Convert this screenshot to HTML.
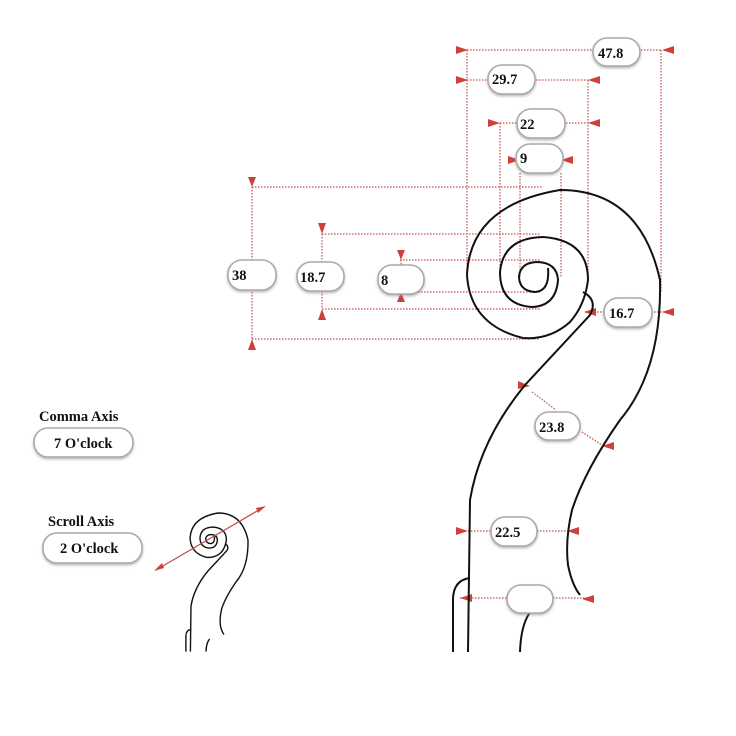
<!DOCTYPE html>
<html><head><meta charset="utf-8"><style>
body{margin:0;background:#fff}
svg{display:block}
text{font-family:"Liberation Serif",serif;font-weight:bold;font-size:14.5px;fill:#111}
.d{stroke:#c0504d;stroke-width:1.2;stroke-dasharray:1.5 1.5;fill:none}
.k{stroke:#111;stroke-width:2;fill:none}
.b{fill:#fff;stroke:#aaa;stroke-width:1.6}
.a{fill:#d0403a}
</style></head><body>
<svg width="736" height="736" viewBox="0 0 736 736" xmlns="http://www.w3.org/2000/svg">
<defs>
<filter id="s" x="-20%" y="-20%" width="140%" height="160%"><feDropShadow dx="0" dy="1.5" stdDeviation="1.2" flood-color="#888" flood-opacity="0.6"/></filter>
<g id="scroll">
<path vector-effect="non-scaling-stroke" d="M548,268 Q550,291 535,292 Q519,291 519,276 Q521,262 538,262 Q557,263 558,280 Q556,306 532,307 Q500,305 500,272 Q503,238 543,237 Q588,240 588,280 Q585,305 570,322 Q550,340 523,338 Q470,325 467,275 Q470,205 560,190 Q640,190 660,280 Q662,370 620,420 Q585,470 572,510 Q565,540 568,565 Q572,585 580,595"/>
<path vector-effect="non-scaling-stroke" d="M583,292 Q598,300 590,315 L525,385 Q480,440 470,500 L468,652"/>
<path vector-effect="non-scaling-stroke" d="M453,652 V598 Q454,580 470,578"/>
<path vector-effect="non-scaling-stroke" d="M520,652 Q521,622 532,610"/>
</g>
</defs>
<path class="d" d="M467,50H662 M467,80H588 M500,123H588 M252,187H543 M322,234H540 M400,260H540 M400,292H540 M322,309H540 M252,339H540 M585,312H668 M460,598H593 M468,531H567"/>
<path class="d" d="M467,50V280 M500,123V282 M520,173V278 M561,173V278 M588,80V275 M661,50V292 M252,187V339 M322,234V309 M401,260V292"/>
<path class="d" d="M532,392L556,410 M582,432L602,445"/>
<g class="a">
<polygon points="468,50 456,46 456,54"/><polygon points="662,50 674,46 674,54"/>
<polygon points="468,80 456,76 456,84"/><polygon points="588,80 600,76 600,84"/>
<polygon points="500,123 488,119 488,127"/><polygon points="588,123 600,119 600,127"/>
<polygon points="520,160 508,156 508,164"/><polygon points="561,160 573,156 573,164"/>
<polygon points="252,187 248,177 256,177"/><polygon points="252,339 248,350 256,350"/>
<polygon points="322,234 318,223 326,223"/><polygon points="322,309 318,320 326,320"/>
<polygon points="401,260 397,250 405,250"/><polygon points="401,292 397,302 405,302"/>
<polygon points="584,312 596,308 596,316"/><polygon points="662,312 674,308 674,316"/>
<polygon points="530,386 518,381 518,389"/><polygon points="602,446 614,442 614,450"/>
<polygon points="468,531 456,527 456,535"/><polygon points="567,531 579,527 579,535"/>
<polygon points="460,598 472,594 472,602"/><polygon points="582,599 594,595 594,603"/>
</g>
<g class="k"><use href="#scroll"/></g>
<g filter="url(#s)">
<rect class="b" x="593" y="38" width="47" height="28" rx="14"/>
<rect class="b" x="488" y="65" width="47" height="29" rx="14"/>
<rect class="b" x="517" y="109" width="48" height="29" rx="14"/>
<rect class="b" x="516" y="144" width="47" height="29" rx="14"/>
<rect class="b" x="228" y="260" width="48" height="30" rx="14"/>
<rect class="b" x="297" y="262" width="47" height="29" rx="14"/>
<rect class="b" x="378" y="265" width="46" height="29" rx="14"/>
<rect class="b" x="604" y="298" width="48" height="29" rx="14"/>
<rect class="b" x="535" y="412" width="45" height="28" rx="14"/>
<rect class="b" x="491" y="517" width="46" height="29" rx="14"/>
<rect class="b" x="507" y="585" width="46" height="28" rx="14"/>
<rect class="b" x="34" y="428" width="99" height="29" rx="14"/>
<rect class="b" x="43" y="533" width="99" height="30" rx="14"/>
</g>
<text x="598" y="58">47.8</text>
<text x="492" y="84">29.7</text>
<text x="520" y="129">22</text>
<text x="520" y="163">9</text>
<text x="232" y="280">38</text>
<text x="300" y="282">18.7</text>
<text x="381" y="285">8</text>
<text x="609" y="318">16.7</text>
<text x="539" y="432">23.8</text>
<text x="495" y="537">22.5</text>
<text x="39" y="421">Comma Axis</text>
<text x="54" y="448">7 O'clock</text>
<text x="48" y="526">Scroll Axis</text>
<text x="60" y="553">2 O'clock</text>
<g transform="translate(50,456) scale(0.3)" stroke="#111" stroke-width="1.4" fill="none"><use href="#scroll"/></g>
<path d="M156,570 L264,507" stroke="#c0504d" stroke-width="1.2"/>
<polygon class="a" points="154,571 162,563 164,568"/><polygon class="a" points="266,506 258,513 256,508"/>
</svg>
</body></html>
